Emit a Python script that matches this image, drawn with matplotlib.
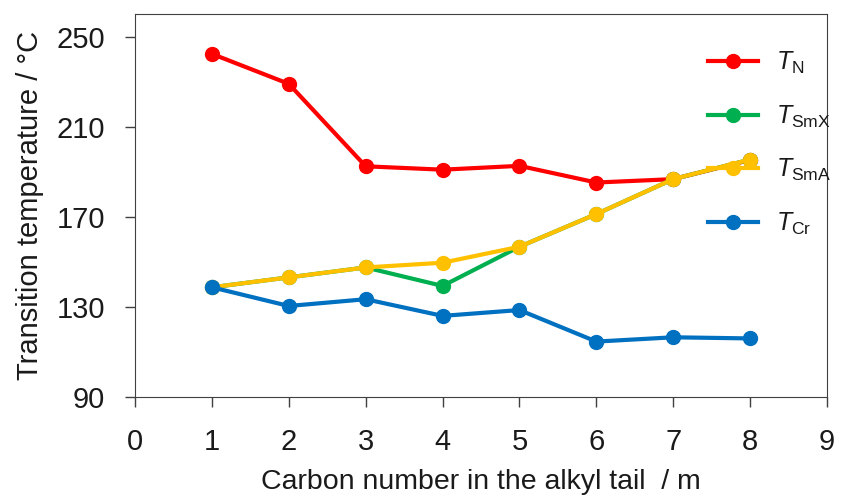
import matplotlib
matplotlib.use("Agg")
import matplotlib.pyplot as plt

# carbon number m in the alkyl tail
m = [1, 2, 3, 4, 5, 6, 7, 8]
T_N = [242.3, 229.0, 192.4, 190.9, 192.6, 185.2, 186.7, 195.2]
T_SmX = [138.7, 143.1, 147.5, 139.3, 156.7, 171.2, 186.7, 195.4]
T_SmA = [138.7, 143.1, 147.5, 149.6, 156.7, 171.2, 186.7, 195.4]
T_Cr = [138.7, 130.4, 133.4, 126.0, 128.6, 114.6, 116.5, 116.0]

SERIES = [("N", T_N, "#FF0000"), ("SmX", T_SmX, "#00B050"),
          ("SmA", T_SmA, "#FFC000"), ("Cr", T_Cr, "#0070C0")]
XTICKS = list(range(0, 10))
YTICKS = [90, 130, 170, 210, 250]

plt.rcParams.update({
    "font.family": "Liberation Sans",
    "mathtext.fontset": "custom",
    "mathtext.rm": "Liberation Sans",
    "mathtext.it": "Liberation Sans:italic",
    "axes.edgecolor": "#404040",
    "xtick.color": "#404040", "ytick.color": "#404040",
    "xtick.labelcolor": "#1a1a1a", "ytick.labelcolor": "#1a1a1a",
    "text.color": "#1a1a1a", "axes.labelcolor": "#1a1a1a",
})

fig = plt.figure(figsize=(8.41, 4.98), dpi=100)
ax = fig.add_axes([135 / 841, 1 - 397 / 498, (827 - 135) / 841, (397 - 14) / 498])

for name, vals, col in SERIES:
    ax.plot(m, vals, "-o", color=col, lw=3, ms=10, label=r"$\mathit{T}_{\mathrm{%s}}$" % name)

ax.set_xlim(0, 9)
ax.set_ylim(90, 260)
ax.set_xticks(XTICKS)
ax.set_yticks(YTICKS)
ax.tick_params(direction="out", length=7.5, width=1, labelsize=21)
ax.tick_params(axis="y", pad=14)
ax.tick_params(axis="x", pad=15)
ax.set_xlabel("Carbon number in the alkyl tail  / m", fontsize=20.5, labelpad=9)
ax.set_ylabel("Transition temperature / °C", fontsize=21, labelpad=9)

ax.legend(loc="upper left", bbox_to_anchor=(708 / 841, 1 - 50 / 498),
          bbox_transform=fig.transFigure, frameon=False, fontsize=18,
          handlelength=2.0, handletextpad=0.72, labelspacing=1.09, borderpad=0,
          borderaxespad=0)

fig.savefig("out.png", dpi=100)
